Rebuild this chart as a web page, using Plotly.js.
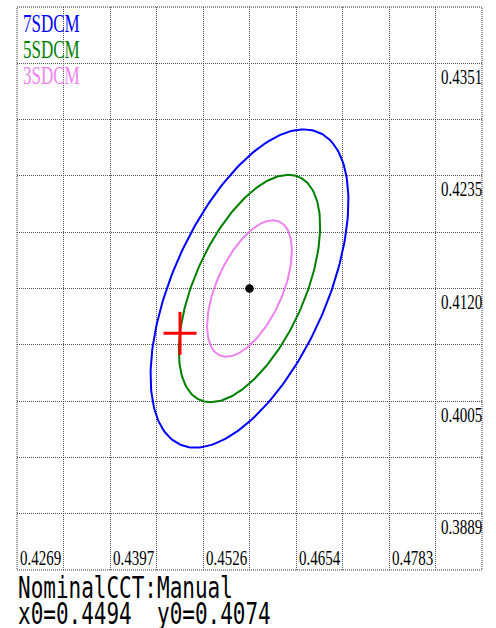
<!DOCTYPE html>
<html><head><meta charset="utf-8">
<script src="https://cdn.plot.ly/plotly-3.0.1.min.js"></script>
<style>html,body{margin:0;padding:0;background:#fff;} #chart{width:496px;height:628px;}</style>
</head><body><div id="chart"></div>
<script>
// ---- data ----
const xTickLabels = ['0.4269','0.4397','0.4526','0.4654','0.4783'];
const xTickValues = [0.42687, 0.43972, 0.45257, 0.46542, 0.47827];
const yTickLabels = ['0.4351','0.4235','0.4120','0.4005','0.3889'];
const yTickValues = [0.43510, 0.42355, 0.41200, 0.40045, 0.38890];
const sdcmSteps = [7, 5, 3];
const sdcmNames = ['7SDCM', '5SDCM', '3SDCM'];
const sdcmColors = ['#0000ff', '#008000', '#ee82ee'];
const ellipseCenter = [0.45900, 0.41200];
const ellipseAxes = [0.002693, 0.001413];   // one-step semi-axes (x,y chromaticity)
const ellipseAngleDeg = 54.0;
const testPoint = [0.4494, 0.4074];
const nominalCCT = 'Manual';
const gridStepX = 0.006425, gridStepY = 0.005775;

// ---- layout geometry ----
const W = 496, H = 628, ML = 17, MR = 14, MT = 7, MB = 58;
const PW = W - ML - MR, PH = H - MT - MB;
const px2pX = px => (px - ML) / PW;
const py2pY = py => (H - MB - py) / PH;
const xRange = [ellipseCenter[0] - 5 * gridStepX, ellipseCenter[0] + 5 * gridStepX];
const yRange = [ellipseCenter[1] - 5 * gridStepY, ellipseCenter[1] + 5 * gridStepY];
const x2pX = v => Math.max(0, (v - xRange[0]) / (xRange[1] - xRange[0]));

const traces = [];
const th = ellipseAngleDeg * Math.PI / 180;
sdcmSteps.forEach((n, i) => {
  const xs = [], ys = [];
  for (let k = 0; k <= 240; k++) {
    const t = 2 * Math.PI * k / 240;
    const u = n * ellipseAxes[0] * Math.cos(t), v = n * ellipseAxes[1] * Math.sin(t);
    xs.push(ellipseCenter[0] + u * Math.cos(th) - v * Math.sin(th));
    ys.push(ellipseCenter[1] + u * Math.sin(th) + v * Math.cos(th));
  }
  traces.push({x: xs, y: ys, mode: 'lines', line: {color: sdcmColors[i], width: 2}, hoverinfo: 'skip', name: sdcmNames[i]});
});
traces.push({x: [ellipseCenter[0]], y: [ellipseCenter[1]], mode: 'markers', marker: {color: '#000', size: 8.5}});
traces.push({x: [testPoint[0]], y: [testPoint[1]], mode: 'markers',
  marker: {symbol: 'line-ew', size: 23.6, color: '#ff0000', line: {color: '#ff0000', width: 3}}});
traces.push({x: [testPoint[0]], y: [testPoint[1]], mode: 'markers',
  marker: {symbol: 'line-ns', size: 30.7, color: '#ff0000', line: {color: '#ff0000', width: 3}}});

const annotations = [];
const serif = 'Liberation Serif, Times New Roman, serif';
xTickValues.forEach((v, i) => annotations.push({
  xref: 'paper', x: x2pX(v), xanchor: 'left', xshift: 1, yref: 'paper', y: py2pY(558), yanchor: 'middle',
  text: xTickLabels[i], showarrow: false, font: {family: serif, size: 15, color: '#000'}}));
yTickValues.forEach((v, i) => annotations.push({
  xref: 'paper', x: 1, xanchor: 'right', xshift: 2, yref: 'y', y: v, yanchor: 'middle', yshift: -13.5,
  text: yTickLabels[i], showarrow: false, font: {family: serif, size: 15, color: '#000'}}));
const legendY = [24.5, 50.5, 76.7];
sdcmNames.forEach((nm, i) => annotations.push({
  xref: 'paper', x: px2pX(21), xanchor: 'left', yref: 'paper', y: py2pY(legendY[i]), yanchor: 'middle',
  text: nm, showarrow: false, font: {family: serif, size: 17, color: sdcmColors[i]}}));
const mono = 'DejaVu Sans Mono, monospace';
annotations.push({xref: 'paper', x: px2pX(16), xanchor: 'left', align: 'left', yref: 'paper', y: py2pY(567.5), yanchor: 'top',
  text: 'NominalCCT:' + nominalCCT + '<br>x0=' + testPoint[0].toFixed(4) + '  y0=' + testPoint[1].toFixed(4),
  showarrow: false, font: {family: mono, size: 21, color: '#000'}});

const axisCommon = {showgrid: true, griddash: '1px,1px', gridcolor: '#555', gridwidth: 1,
  showticklabels: false, ticks: '', zeroline: false, showline: false, fixedrange: true};
const layout = {
  width: W, height: H, margin: {l: ML, r: MR, t: MT, b: MB, pad: 0},
  paper_bgcolor: '#fff', plot_bgcolor: '#fff', showlegend: false,
  xaxis: Object.assign({range: xRange, tick0: xRange[0], dtick: gridStepX}, axisCommon),
  yaxis: Object.assign({range: yRange, tick0: yRange[0], dtick: gridStepY}, axisCommon),
  shapes: [{type: 'rect', xref: 'paper', yref: 'paper', x0: 0, x1: 1, y0: 0, y1: 1,
    line: {color: '#333', width: 1, dash: '1px,1px'}}],
  annotations: annotations
};
Plotly.newPlot('chart', traces, layout, {staticPlot: true}).then(() => {
  document.querySelectorAll('#chart .annotation-text').forEach(el => {
    const lines = el.querySelectorAll('tspan.line');
    el.style.transformBox = 'fill-box';
    if (lines.length > 1) {
      lines[1].setAttribute('dy', '18.3px');
      el.style.transformOrigin = 'left top';
      el.style.transform = 'scaleY(1.45)';
    } else {
      el.style.transformOrigin = 'center';
      el.style.transform = 'scaleY(1.42)';
    }
  });
});
</script>
</body></html>
